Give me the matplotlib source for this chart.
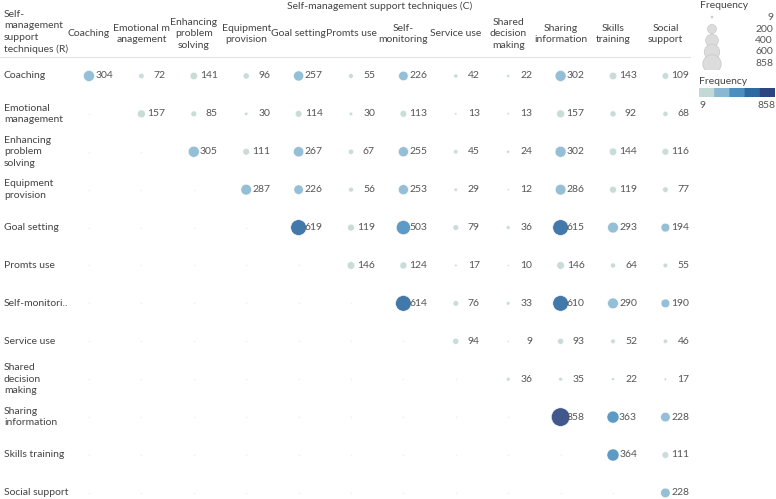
import numpy as np
import matplotlib
matplotlib.use('Agg')
from matplotlib import pyplot as plt
from matplotlib.colors import ListedColormap, BoundaryNorm
import matplotlib.transforms as mtrans

plt.rcParams['font.family'] = ['Lato', 'DejaVu Sans']

#%% data
techniques = ['Coaching', 'Emotional management', 'Enhancing problem solving', 'Equipment provision',
              'Goal setting', 'Promts use', 'Self-monitoring', 'Service use', 'Shared decision making',
              'Sharing information', 'Skills training', 'Social support']
col_labels = ['Coaching', 'Emotional m\nanagement', 'Enhancing\nproblem\nsolving', 'Equipment\nprovision',
              'Goal setting', 'Promts use', 'Self-\nmonitoring', 'Service use', 'Shared\ndecision\nmaking',
              'Sharing\ninformation', 'Skills\ntraining', 'Social\nsupport']
row_labels = ['Coaching', 'Emotional\nmanagement', 'Enhancing\nproblem\nsolving', 'Equipment\nprovision',
              'Goal setting', 'Promts use', 'Self-monitori..', 'Service use', 'Shared\ndecision\nmaking',
              'Sharing\ninformation', 'Skills training', 'Social support']

# upper triangle, row by row starting at the diagonal
row_values = [
    [304, 72, 141, 96, 257, 55, 226, 42, 22, 302, 143, 109],
    [157, 85, 30, 114, 30, 113, 13, 13, 157, 92, 68],
    [305, 111, 267, 67, 255, 45, 24, 302, 144, 116],
    [287, 226, 56, 253, 29, 12, 286, 119, 77],
    [619, 119, 503, 79, 36, 615, 293, 194],
    [146, 124, 17, 10, 146, 64, 55],
    [614, 76, 33, 610, 290, 190],
    [94, 9, 93, 52, 46],
    [36, 35, 22, 17],
    [858, 363, 228],
    [364, 111],
    [228],
]
legend_sizes = [9, 200, 400, 600, 858]
vmin, vmax = 9, 858
palette = ['#c3d9d6', '#8ab8d2', '#4b8fbf', '#2e6aa1', '#2b4680']

FS = 7.5
TXT = '#444444'
NUM = '#555555'

#%%
n = len(techniques)
xs, ys, vals = [], [], []
for r, vals_row in enumerate(row_values):
    for k, v in enumerate(vals_row):
        xs.append(r + k)
        ys.append(r)
        vals.append(v)
xs, ys, vals = np.array(xs), np.array(ys), np.array(vals)

cmap = ListedColormap(palette)
norm = BoundaryNorm(np.linspace(vmin, vmax, 6), cmap.N)

W, H = 776, 499
fig = plt.figure(figsize=(W / 100, H / 100), dpi=100)

col_w, row_h = 52.4, 37.9
x0, y0 = 89, 76
left = x0 - col_w / 2
ax = fig.add_axes([left / W, 0, col_w * n / W, (H - 57) / H])
ax.set_xlim(-0.5, n - 0.5)
ax.set_ylim((H - y0) / row_h, -0.5)
ax.axis('off')


def msize(v):
    d = 18.5 * np.sqrt(v / vmax)  # diameter in px
    return (d * 0.72) ** 2


# faint placeholder dots in the empty lower triangle
lx, ly = np.meshgrid(np.arange(n), np.arange(n))
mask = lx < ly
ax.scatter(lx[mask], ly[mask], s=2, color='#f2f2f2', lw=0)

ax.scatter(xs, ys, s=msize(vals), c=vals, cmap=cmap, norm=norm,
           edgecolors='#ffffff', linewidths=0.4, alpha=0.9, zorder=3)
offset = mtrans.offset_copy(ax.transData, fig=fig, x=24 * 0.72, y=0, units='points')
for x, y, v in zip(xs, ys, vals):
    ax.text(x, y, str(v), transform=offset, ha='right', va='center', fontsize=FS, color=NUM)

# headers
hdr = mtrans.blended_transform_factory(ax.transData, fig.transFigure)
for i, lab in enumerate(col_labels):
    ax.text(i, 1 - 34 / H, lab, transform=hdr, ha='center', va='center', fontsize=FS,
            color=TXT, linespacing=1.35)
fig.text(380 / W, 1 - 6 / H, 'Self-management support techniques (C)', ha='center', va='center',
         fontsize=FS, color=TXT)
fig.text(4 / W, 1 - 32 / H, 'Self-\nmanagement\nsupport\ntechniques (R)', ha='left', va='center',
         fontsize=FS, color=TXT, linespacing=1.35)
fig.add_artist(plt.Line2D([0, 690 / W], [1 - 57 / H, 1 - 57 / H], color='#e3e3e3', lw=0.8))

rowt = mtrans.blended_transform_factory(fig.transFigure, ax.transData)
for j, lab in enumerate(row_labels):
    ax.text(4 / W, j, lab, transform=rowt, ha='left', va='center', fontsize=FS,
            color=TXT, linespacing=1.35)

# size legend
fig.text(700 / W, 1 - 6 / H, 'Frequency', ha='left', va='center', fontsize=FS, color=TXT)
lax = fig.add_axes([695 / W, 1 - 70 / H, 81 / W, 58 / H])
lax.set_xlim(0, 81)
lax.set_ylim(58, 0)
lax.axis('off')
ly_pos = [5, 17, 28.5, 40, 52]
lax.scatter([17] * len(legend_sizes), ly_pos, s=msize(np.array(legend_sizes)), color='#dcdcdc',
            edgecolors='#c8c8c8', linewidths=0.5)
for yy, v in zip(ly_pos, legend_sizes):
    lax.text(78, yy, str(v), ha='right', va='center', fontsize=FS, color=NUM)

# colour legend
fig.text(699 / W, 1 - 82 / H, 'Frequency', ha='left', va='center', fontsize=FS, color=TXT)
cax = fig.add_axes([699 / W, 1 - 97 / H, 76 / W, 9 / H])
cax.imshow(np.linspace(vmin, vmax, 200)[None, :], aspect='auto', cmap=cmap, norm=norm,
           extent=[vmin, vmax, 0, 1])
cax.set_xticks([])
cax.set_yticks([])
for s in cax.spines.values():
    s.set_visible(False)
fig.text(699 / W, 1 - 105 / H, '9', ha='left', va='center', fontsize=FS, color=NUM)
fig.text(775 / W, 1 - 105 / H, '858', ha='right', va='center', fontsize=FS, color=NUM)

fig.savefig('out.png', dpi=100)
